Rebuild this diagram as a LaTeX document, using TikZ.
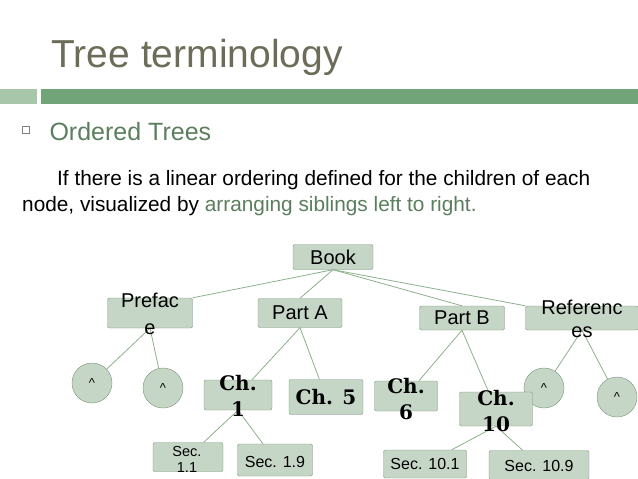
\documentclass[tikz,border=0pt]{standalone}
\usepackage{fontspec}
\setmainfont{Liberation Sans}
\newfontfamily\chfont{DejaVu Serif}
\definecolor{titlec}{RGB}{108,108,88}
\definecolor{barg}{RGB}{114,164,122}
\definecolor{barl}{RGB}{168,198,170}
\definecolor{subc}{RGB}{90,126,94}
\definecolor{nfill}{RGB}{198,214,198}
\definecolor{ndraw}{RGB}{120,150,122}
\definecolor{edgec}{RGB}{140,176,140}
\begin{document}
\begin{tikzpicture}[x=1pt,y=-1pt,
 box/.style={draw=ndraw,fill=nfill,rounded corners=2pt,inner sep=0pt},
 circ/.style={draw=ndraw,fill=nfill,circle,minimum size=40pt,inner sep=0pt,font=\fontsize{13}{14}\selectfont},
 txt/.style={inner sep=0pt,align=center},
 chtxt/.style={txt,font=\chfont\bfseries\fontsize{20}{26}\selectfont},
 edge/.style={draw=edgec,line width=0.8pt}]
\useasboundingbox (0,0) rectangle (638,479);
\node[anchor=base west,text=titlec,font=\fontsize{39}{44}\selectfont] (title) at (48,67) {Tree terminology};
\fill[barl] (0,89) rectangle (37,104);
\fill[barg] (41,89) rectangle (638,104);
\node[draw=gray,minimum size=7pt,inner sep=0pt,line width=0.4pt] (bul) at (26,130) {};
\node[anchor=base west,text=subc,font=\fontsize{25}{28}\selectfont] (sub) at (46,140) {Ordered Trees};
\node[anchor=base west,font=\fontsize{20.8}{22}\selectfont,inner sep=0pt] (l1) at (57,185) {If there is a linear ordering defined for the children of each};
\node[anchor=base west,font=\fontsize{20.8}{22}\selectfont,inner sep=0pt] (l2) at (22,211) {node, visualized by \textcolor{subc}{arranging siblings left to right.}};
% boxes
\node[box,minimum width=80pt,minimum height=25pt] (book) at (333,257) {};
\node[box,minimum width=85pt,minimum height=30pt] (pref) at (150,313) {};
\node[box,minimum width=84pt,minimum height=29pt] (pa) at (300,313) {};
\node[box,minimum width=85pt,minimum height=24pt] (pb) at (462,318) {};
\node[box,minimum width=113pt,minimum height=24pt] (ref) at (582,318) {};
\node[circ] (c1) at (92,383) {\^{}};
\node[circ] (c2) at (163,388) {\^{}};
\node[circ] (c3) at (544,388) {\^{}};
\node[circ] (c4) at (617,397) {\^{}};
\node[box,minimum width=68pt,minimum height=30pt] (ch1) at (238,395) {};
\node[box,minimum width=74pt,minimum height=35pt] (ch5) at (326,397) {};
\node[box,minimum width=63pt,minimum height=30pt] (ch6) at (406,396) {};
\node[box,minimum width=73pt,minimum height=34pt] (ch10) at (496,409) {};
\node[box,minimum width=70pt,minimum height=29pt] (s11) at (188,457) {};
\node[box,minimum width=75pt,minimum height=32pt] (s19) at (275,460) {};
\node[box,minimum width=83pt,minimum height=28pt] (s101) at (425,464) {};
\node[box,minimum width=100pt,minimum height=29pt] (s109) at (539,465) {};
% edges
\draw[edge] (book.south) -- (pref.north east);
\draw[edge] (book.south) -- (pa.north);
\draw[edge] (book.south) -- (pb.north);
\draw[edge] (book.south) -- (ref.north west);
\draw[edge] (pref.south) -- (c1);
\draw[edge] (pref.south) -- (c2);
\draw[edge] (pa.south) -- (ch1);
\draw[edge] (pa.south) -- (ch5);
\draw[edge] (pb.south) -- (ch6);
\draw[edge] (pb.south) -- (ch10);
\draw[edge] (ref.south) -- (c3);
\draw[edge] (ref.south) -- (c4);
\draw[edge] (ch1.south) -- (s11);
\draw[edge] (ch1.south) -- (s19);
\draw[edge] (ch10.south) -- (s101);
\draw[edge] (ch10.south) -- (s109);
% texts
\node[txt,font=\fontsize{20}{27}\selectfont] (tbook) at (333,257) {Book};
\node[txt,font=\fontsize{20}{27}\selectfont] (tpref) at (150,314) {Prefac\\e};
\node[txt,font=\fontsize{20}{27}\selectfont] (tpa) at (300,313) {Part A};
\node[txt,font=\fontsize{20}{27}\selectfont] (tpb) at (462,318) {Part B};
\node[txt,font=\fontsize{20}{23}\selectfont] (tref) at (582,319) {Referenc\\es};
\node[chtxt] (tch1) at (238,396) {Ch.\\1};
\node[chtxt] (tch5) at (326,397) {Ch. 5};
\node[chtxt] (tch6) at (406,399) {Ch.\\6};
\node[chtxt] (tch10) at (496,411) {Ch.\\10};
\node[txt,font=\fontsize{14.5}{16}\selectfont] (ts11) at (187,459) {Sec.\\1.1};
\node[txt,font=\fontsize{16}{18}\selectfont] (ts19) at (275,462) {Sec. 1.9};
\node[txt,font=\fontsize{16}{18}\selectfont] (ts101) at (425,464) {Sec. 10.1};
\node[txt,font=\fontsize{16}{18}\selectfont] (ts109) at (539,466) {Sec. 10.9};
\end{tikzpicture}
\end{document}
